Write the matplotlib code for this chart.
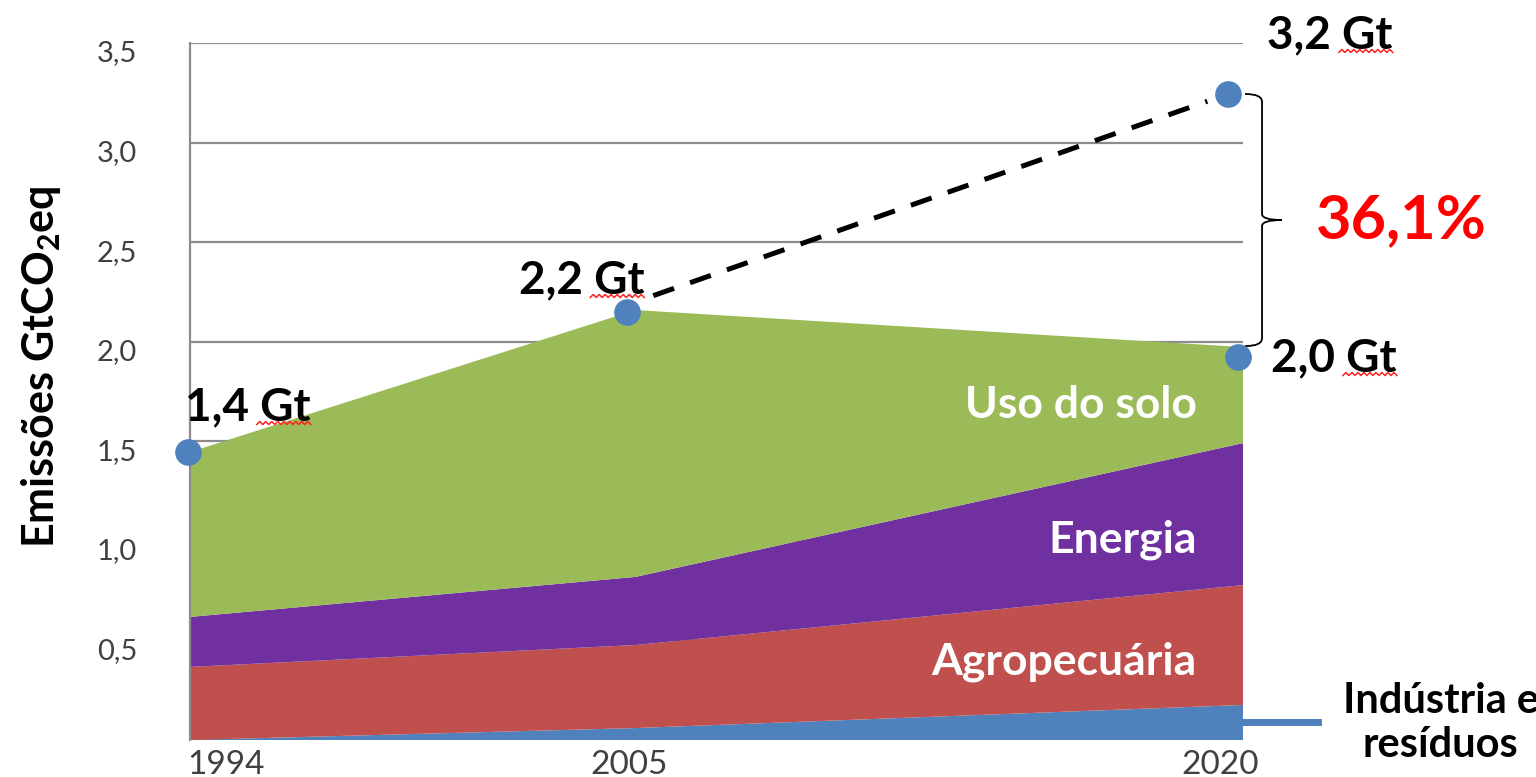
import numpy as np
import matplotlib.pyplot as plt
from matplotlib.path import Path
from matplotlib.patches import PathPatch
from matplotlib.lines import Line2D
from matplotlib.transforms import ScaledTranslation, IdentityTransform

plt.rcParams['font.family'] = ['Lato', 'DejaVu Sans']
plt.rcParams['mathtext.fontset'] = 'custom'
plt.rcParams['mathtext.rm'] = 'Lato'
plt.rcParams['mathtext.bf'] = 'Lato:bold'

# dados
anos = [1994, 2005, 2020]
industria = [0.0, 0.06, 0.176]
agropecuaria = [0.367, 0.417, 0.602]
energia = [0.251, 0.342, 0.713]
uso_solo = [0.828, 1.34, 0.482]

camadas = ['Indústria e\nresíduos', 'Agropecuária', 'Energia', 'Uso do solo']
cores = ['#4F81BD', '#C0504D', '#7030A0', '#9BBB59']

# pontos marcados e rotulos
ponto_x = [1993.95, 2004.8, 2019.63, 2019.88]
ponto_y = [1.446, 2.149, 3.244, 1.923]
ponto_txt = ['1,4 Gt', '2,2 Gt', '3,2 Gt', '2,0 Gt']
ponto_off = [(60, 45), (-46, 32), (102, 59), (96, -1)]

proj_x = [2005, 2019.63]
proj_y = [2.2, 3.244]
percentual = '36,1%'

yticks = [0, 0.5, 1.0, 1.5, 2.0, 2.5, 3.0, 3.5]
ytick_txt = ['', '0,5', '1,0', '1,5', '2,0', '2,5', '3,0', '3,5']
xticks = [1994, 2005, 2020]
xtick_txt = ['1994', '2005', '2020']

fig = plt.figure(figsize=(15.36, 7.77), dpi=100)
ax = fig.add_axes([190/1536, 37/777, 1053/1536, 697/777])

ax.stackplot(anos, industria, agropecuaria, energia, uso_solo,
             colors=cores, lw=0, zorder=2)

ax.set_xlim(1994, 2020)
ax.set_ylim(0, 3.5)
ax.set_yticks(yticks)
ax.set_yticklabels(ytick_txt, fontsize=21, color='#404040')
ax.yaxis.grid(True, color='#8c8c8c', lw=1.6)
ax.set_axisbelow(True)
ax.tick_params(axis='y', length=0, pad=38)
for lab in ax.get_yticklabels():
    lab.set_transform(lab.get_transform() + ScaledTranslation(0, -0.08, fig.dpi_scale_trans))
ax.set_xticks(xticks)
ax.set_xticklabels(xtick_txt, fontsize=24, color='#404040')
ax.tick_params(axis='x', length=0, pad=7)
desloc = [36, -6, -23]
for lab, d in zip(ax.get_xticklabels(), desloc):
    lab.set_transform(lab.get_transform() + ScaledTranslation(d/100, 0, fig.dpi_scale_trans))

for s in ['top', 'right', 'bottom']:
    ax.spines[s].set_visible(False)
ax.spines['left'].set_color('#8c8c8c')
ax.spines['left'].set_linewidth(1.6)

ax.set_ylabel(r'Emissões GtCO$_\mathbf{2}$eq', fontsize=31, fontweight='bold')
ax.yaxis.set_label_coords(-0.121, 0.535)

# linha tracejada da projecao
t = np.array([0.03, 0.965])
lx = proj_x[0] + t*(proj_x[1]-proj_x[0])
ly = proj_y[0] + t*(proj_y[1]-proj_y[0])
ax.plot(lx, ly, ls=(0, (4.4, 3.4)), color='black', lw=3.6, zorder=4, clip_on=False)

ax.scatter(ponto_x, ponto_y, s=330, color='#4F81BD', zorder=5, clip_on=False)
rotulos = []
for x, y, txt, off in zip(ponto_x, ponto_y, ponto_txt, ponto_off):
    a = ax.annotate(txt, (x, y), xytext=off, textcoords='offset pixels',
                    ha='center', va='center', fontsize=33, fontweight='bold',
                    annotation_clip=False, zorder=6)
    rotulos.append(a)

# chave
xa, xb, xc = 2020.05, 2020.47, 2020.96
yt, yb = 3.244, 1.978
ym = (yt + yb)/2
verts = [(xa, yt), (xb, yt), (xb, yt-0.04),
         (xb, ym+0.03), (xb, ym), (xc, ym),
         (xb, ym), (xb, ym-0.03),
         (xb, yb+0.04), (xb, yb), (xa, yb)]
codes = [Path.MOVETO, Path.CURVE3, Path.CURVE3,
         Path.LINETO, Path.CURVE3, Path.CURVE3,
         Path.CURVE3, Path.CURVE3,
         Path.LINETO, Path.CURVE3, Path.CURVE3]
ax.add_patch(PathPatch(Path(verts, codes), fill=False, lw=1.3, color='black', clip_on=False))
ax.text(2023.9, ym, percentual, color='#FF0000', fontsize=44, fontweight='bold',
        ha='center', va='center')

# rotulos das camadas
ax.text(2018.86, 1.682, camadas[3], color='white', fontsize=32, fontweight='bold', ha='right', va='center', zorder=6)
ax.text(2018.86, 1.004, camadas[2], color='white', fontsize=32, fontweight='bold', ha='right', va='center', zorder=6)
ax.text(2018.86, 0.392, camadas[1], color='white', fontsize=32, fontweight='bold', ha='right', va='center', zorder=6)
ax.plot([2020, 2021.85], [industria[-1]/2, industria[-1]/2], color=cores[0], lw=5, clip_on=False)
ax.text(2024.88, 0.085, camadas[0], color='black', fontsize=30, fontweight='bold',
        ha='center', va='center', linespacing=1.2)

# sublinhado ondulado vermelho sob "Gt"
fig.canvas.draw()
r = fig.canvas.get_renderer()
for a in rotulos:
    bb = a.get_window_extent(r)
    xs = np.arange(bb.x0 + 0.57*bb.width, bb.x1 + 2, 3.0)
    ys = bb.y0 + 0.12*bb.height + np.where(np.arange(len(xs)) % 2 == 0, -1.5, 1.5)
    fig.add_artist(Line2D(xs, ys, transform=IdentityTransform(), color='#FF2020', lw=1.1))

fig.savefig('out.png', dpi=100)
